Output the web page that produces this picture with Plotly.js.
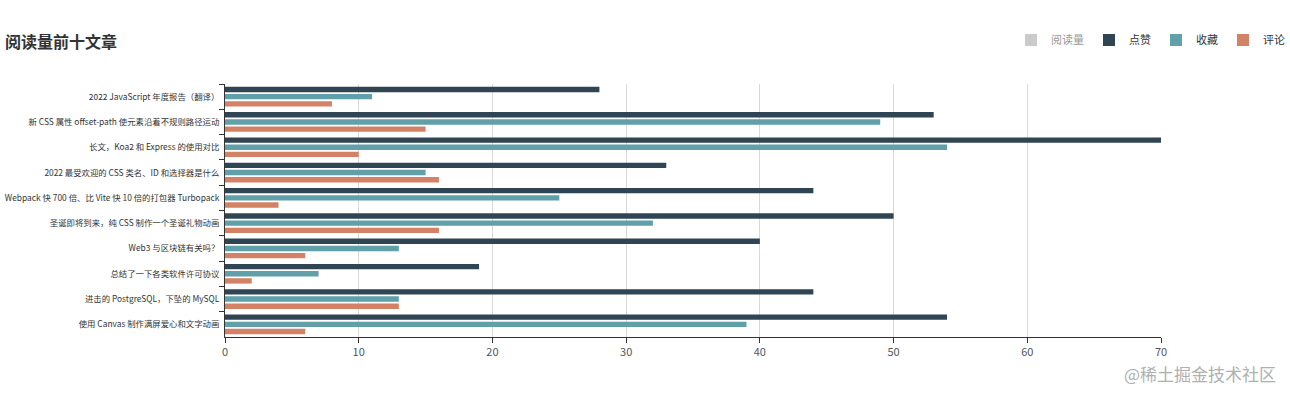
<!DOCTYPE html>
<html>
<head>
<meta charset="utf-8">
<script src="https://cdn.plot.ly/plotly-3.0.1.min.js"></script>
<style>html,body{margin:0;padding:0;background:#fff;}#chart{width:1290px;height:396px;}</style>
</head>
<body>
<div id="chart"></div>
<script>
const articles = [
  "2022 JavaScript 年度报告（翻译）",
  "新 CSS 属性 offset-path 使元素沿着不规则路径运动",
  "长文，Koa2 和 Express 的使用对比",
  "2022 最受欢迎的 CSS 类名、ID 和选择器是什么",
  "Webpack 快 700 倍、比 Vite 快 10 倍的打包器 Turbopack",
  "圣诞即将到来，纯 CSS 制作一个圣诞礼物动画",
  "Web3 与区块链有关吗？",
  "总结了一下各类软件许可协议",
  "进击的 PostgreSQL，下坠的 MySQL",
  "使用 Canvas 制作满屏爱心和文字动画"
];
// 阅读量 is hidden in the reference (legend only); its values are not visible.
const reads = [null, null, null, null, null, null, null, null, null, null];
const likes = [28, 53, 70, 33, 44, 50, 40, 19, 44, 54];
const favorites = [11, 49, 54, 15, 25, 32, 13, 7, 13, 39];
const comments = [8, 15, 10, 16, 4, 16, 6, 2, 13, 6];
const xTicks = [0, 10, 20, 30, 40, 50, 60, 70];

const font = "'Noto Sans CJK SC', 'Noto Sans', sans-serif";

const traces = [
  {name: "阅读量", y: articles, x: reads, type: "bar", orientation: "h", visible: "legendonly", marker: {color: "#999999"}},
  {name: "点赞", y: articles, x: likes, type: "bar", orientation: "h", marker: {color: "#2f4554"}},
  {name: "收藏", y: articles, x: favorites, type: "bar", orientation: "h", marker: {color: "#61a0a8"}},
  {name: "评论", y: articles, x: comments, type: "bar", orientation: "h", marker: {color: "#d48265"}}
];

const layout = {
  width: 1290, height: 396,
  margin: {l: 225, r: 129, t: 84, b: 59, autoexpand: false},
  paper_bgcolor: "#fff", plot_bgcolor: "#fff",
  font: {family: font, color: "#333", size: 12},
  title: {text: "<b>阅读量前十文章</b>", x: 5 / 1290, xref: "container", xanchor: "left", y: 1 - 42/396, yref: "container", yanchor: "middle", font: {size: 16, color: "#333", family: font}},
  barmode: "group", bargap: 0.15, bargroupgap: 0.25,
  showlegend: true,
  legend: {orientation: "h", xref: "container", yref: "container", x: 1, xanchor: "right", y: 1 - 40/396, yanchor: "middle", font: {size: 11, color: "#333"}, itemclick: false, traceorder: "normal", bgcolor: "rgba(0,0,0,0)", itemwidth: 30},
  xaxis: {range: [0, 70], tickvals: xTicks, ticktext: xTicks.map(String), showgrid: true, gridcolor: "#d9d9d9", gridwidth: 1, zeroline: false,
          showline: true, linecolor: "#333", linewidth: 1, ticks: "outside", ticklen: 5, tickcolor: "#333", tickfont: {size: 11, color: "#555"}, automargin: false, fixedrange: true},
  yaxis: {type: "category", autorange: "reversed", showgrid: false, zeroline: false, showline: true, linecolor: "#333", linewidth: 1,
          ticks: "outside", ticklen: 5, tickcolor: "#333", tickson: "boundaries", ticklabelstandoff: 3, tickfont: {size: 8.4, color: "#333"}, automargin: false, fixedrange: true},
  annotations: [{text: "@稀土掘金技术社区", xref: "paper", yref: "paper", x: (1278 - 225) / 936, xanchor: "right", y: -(373 - 337) / 253, yanchor: "middle", showarrow: false, font: {size: 17, color: "#b0b0b0", family: font}}]
};

Plotly.newPlot("chart", traces, layout, {displayModeBar: false, staticPlot: true});
</script>
</body>
</html>
